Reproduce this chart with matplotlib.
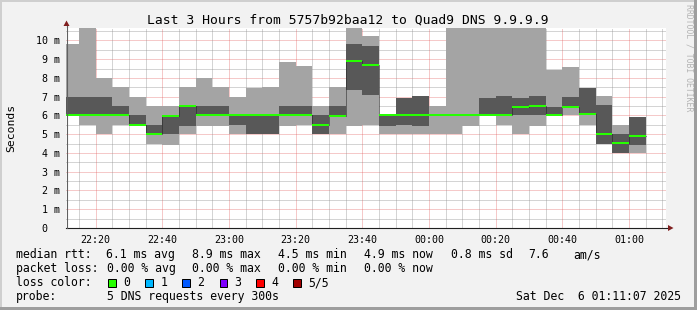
import matplotlib
matplotlib.use("Agg")
import matplotlib.pyplot as plt
from matplotlib.patches import Rectangle, Polygon
from matplotlib.lines import Line2D
import numpy as np

W, H = 697, 310
MONO = "DejaVu Sans Mono"

# ---------------- data ----------------
bucket_end = ["22:15", "22:20", "22:25", "22:30", "22:35", "22:40", "22:45",
              "22:50", "22:55", "23:00", "23:05", "23:10", "23:15", "23:20",
              "23:25", "23:30", "23:35", "23:40", "23:45", "23:50", "23:55",
              "00:00", "00:05", "00:10", "00:15", "00:20", "00:25", "00:30",
              "00:35", "00:40", "00:45", "00:50", "00:55", "01:00", "01:05"]
# sorted pings (ms) per bucket: ping1 (lowest) .. ping5 (highest); ping3 = median
ping1 = [6.0, 5.5, 5.0, 5.5, 5.5, 4.5, 4.45, 5.0, 5.45, 5.45, 5.0, 5.0, 5.0, 5.45,
         5.5, 5.0, 5.0, 5.45, 5.5, 5.0, 5.0, 5.0, 5.0, 5.0, 5.45, 6.0, 5.5, 5.0,
         5.45, 6.0, 6.0, 5.5, 4.5, 4.0, 4.0]
ping2 = [6.0, 6.0, 6.0, 6.0, 5.5, 5.0, 5.0, 5.45, 6.0, 6.0, 5.5, 5.0, 5.0, 6.0,
         6.0, 5.0, 5.95, 7.37, 7.1, 5.45, 5.5, 5.45, 6.0, 6.0, 6.0, 6.0, 6.0, 6.0,
         6.0, 6.0, 6.47, 6.05, 4.5, 4.0, 4.44]
ping3 = [6.0, 6.0, 6.0, 6.0, 5.5, 5.0, 5.95, 6.5, 6.0, 6.0, 6.0, 6.0, 6.0, 6.0,
         6.0, 5.5, 5.95, 8.88, 8.67, 6.0, 6.0, 6.0, 6.0, 6.0, 6.0, 6.0, 6.0, 6.47,
         6.52, 6.0, 6.47, 6.05, 5.0, 4.52, 4.92]
ping4 = [7.0, 7.0, 7.0, 6.5, 6.0, 5.5, 5.95, 6.5, 6.5, 6.52, 6.0, 6.0, 6.0, 6.5,
         6.52, 6.0, 6.5, 9.82, 9.72, 6.0, 6.95, 7.05, 6.0, 6.0, 6.0, 6.95, 7.05,
         6.95, 7.05, 6.47, 7.0, 7.48, 6.55, 5.0, 5.93]
ping5 = [9.82, 11.0, 8.0, 7.5, 7.0, 6.5, 6.48, 7.5, 8.0, 7.51, 7.0, 7.48, 7.52,
         8.86, 8.65, 6.5, 7.5, 11.0, 10.25, 6.0, 6.95, 7.05, 6.5, 11.5, 11.5, 11.5,
         11.5, 11.5, 11.5, 8.44, 8.6, 7.48, 7.05, 5.5, 5.93]

major_ticks = ["22:20", "22:40", "23:00", "23:20", "23:40", "00:00", "00:20", "00:40", "01:00"]
ytick_vals = [0, 1, 2, 3, 4, 5, 6, 7, 8, 9, 10]
ytick_labels = ["0  ", "1 m", "2 m", "3 m", "4 m", "5 m", "6 m", "7 m", "8 m", "9 m", "10 m"]

title = "Last 3 Hours from 5757b92baa12 to Quad9 DNS 9.9.9.9"
stats_rtt = [("median rtt:", 16), ("6.1 ms avg", 106), ("8.9 ms max", 192), ("4.5 ms min", 278.5),
             ("4.9 ms now", 364.5), ("0.8 ms sd", 451), ("7.6", 528.5), ("am/s", 573)]
stats_loss = [("packet loss:", 16), ("0.00 % avg", 107), ("0.00 % max", 192.5),
              ("0.00 % min", 278.5), ("0.00 % now", 364.5)]
loss_labels = ["0", "1", "2", "3", "4", "5/5"]
loss_colors = ["#26ff00", "#00b8ff", "#0059ff", "#7e00ff", "#ff0000", "#a10000"]
probe_text = "5 DNS requests every 300s"
stamp_text = "Sat Dec  6 01:11:07 2025"

# ---------------- helpers ----------------
def mins(s):
    h, m = map(int, s.split(":"))
    t = h * 60 + m
    if h < 12:
        t += 1440
    return t

def fx(x):
    return x / W

def fy(y):
    return 1 - y / H

ends = np.array([mins(s) for s in bucket_end], dtype=float)
edges = np.append(ends - 5, ends[-1])

def st(v):
    v = np.asarray(v, dtype=float)
    return np.append(v, v[-1])

x_start = mins("22:11") + 7 / 60.0
x_end = x_start + 180
YMAX = 10.66

BG = "#f2f2f2"
GRID = (0.56, 0.56, 0.56, 0.75)
MGRID = (0.87, 0.31, 0.31, 0.60)
ARROW = "#801f1f"

fig = plt.figure(figsize=(W / 100, H / 100), dpi=100, facecolor=BG)
ax = fig.add_axes([66 / W, 82 / H, 600 / W, 200 / H])
ax.set_facecolor("white")
ax.set_xlim(x_start, x_end)
ax.set_ylim(0, YMAX)
for sp in ax.spines.values():
    sp.set_visible(False)

# grid (under the graph, dotted)
dash = (0, (1, 1))
for v in np.arange(0.5, YMAX, 0.5):
    col = MGRID if abs(v - round(v)) < 1e-6 else GRID
    ln = ax.axhline(v, color=col, lw=0.72, ls=dash, zorder=1)
    ln.set_snap(True)
major_x = [mins(s) for s in major_ticks]
t = mins("22:15")
while t < x_end:
    col = MGRID if t in major_x else GRID
    ln = ax.axvline(t, color=col, lw=0.72, ls=dash, zorder=1)
    ln.set_snap(True)
    t += 5

# smoke
ax.fill_between(edges, st(ping1), st(ping5), step="post", color="#a4a4a4", lw=0, zorder=2)
ax.fill_between(edges, st(ping2), st(ping4), step="post", color="#585858", lw=0, zorder=3)
# median
med = st(ping3)
ax.step(edges, med, where="post", color="#202020", lw=0.72, ls=(0, (1, 1)), zorder=4)
sw = YMAX / 200.0
ax.fill_between(edges, med - sw, med + sw, step="post", color=loss_colors[0], lw=0, zorder=5)

# ticks and labels
ax.set_xticks(major_x)
ax.set_xticklabels(major_ticks)
ax.set_yticks(ytick_vals)
ax.set_yticklabels(ytick_labels)
ax.tick_params(axis="x", length=0, pad=5.0, labelsize=7.2)
ax.tick_params(axis="y", length=0, pad=4.4, labelsize=7.2)
for lab in ax.get_xticklabels() + ax.get_yticklabels():
    lab.set_fontfamily(MONO)
    lab.set_color("black")

# axes lines + arrows (pixel geometry)
fig.add_artist(Line2D([fx(66), fx(669)], [fy(228), fy(228)], color="#1f1f1f", lw=0.8,
                      transform=fig.transFigure, zorder=10))
fig.add_artist(Line2D([fx(66.5), fx(66.5)], [fy(228), fy(24)], color="#606060", lw=0.8,
                      transform=fig.transFigure, zorder=10))
fig.add_artist(Polygon([(fx(668), fy(225)), (fx(668), fy(231)), (fx(673.5), fy(228))],
                       closed=True, color=ARROW, lw=0, transform=fig.transFigure, zorder=11))
fig.add_artist(Polygon([(fx(63.5), fy(26)), (fx(69.5), fy(26)), (fx(66.5), fy(20.5))],
                       closed=True, color=ARROW, lw=0, transform=fig.transFigure, zorder=11))

# title
fig.text(fx(348), fy(24), title, ha="center", va="baseline", fontsize=9.4, family=MONO)
# y axis label
fig.text(fx(11), fy(128), "Seconds", ha="center", va="center", rotation=90, fontsize=8.2, family=MONO)
# watermark
fig.text(fx(688.5), fy(4), "RRDTOOL / TOBI OETIKER", ha="center", va="top", rotation=270,
         fontsize=5.9, family=MONO, color="#b4b4b4")

# legend rows
LFS = 8.3
for s, x in stats_rtt:
    fig.text(fx(x), fy(258.3), s, ha="left", va="baseline", fontsize=LFS, family=MONO)
for s, x in stats_loss:
    fig.text(fx(x), fy(272.3), s, ha="left", va="baseline", fontsize=LFS, family=MONO)
fig.text(fx(16), fy(286.3), "loss color:", ha="left", va="baseline", fontsize=LFS, family=MONO)
box_x = [108.3, 145.3, 182.2, 219.6, 256.4, 293.3]
for lab, col, bx in zip(loss_labels, loss_colors, box_x):
    fig.add_artist(Rectangle((fx(bx), fy(287)), 7.5 / W, 8 / H, facecolor=col, edgecolor="black",
                             lw=0.72, transform=fig.transFigure))
    fig.text(fx(bx + 15), fy(286.3), lab, ha="left", va="baseline", fontsize=LFS, family=MONO)
fig.text(fx(16), fy(300.3), "probe:", ha="left", va="baseline", fontsize=LFS, family=MONO)
fig.text(fx(107), fy(300.3), probe_text, ha="left", va="baseline", fontsize=LFS, family=MONO)
fig.text(fx(681), fy(300.3), stamp_text, ha="right", va="baseline", fontsize=LFS, family=MONO)

# frame shading
fig.add_artist(Rectangle((0, fy(2)), 1, 2 / H, facecolor="#cfcfcf", lw=0, transform=fig.transFigure))
fig.add_artist(Rectangle((0, 0), 2 / W, 1, facecolor="#cfcfcf", lw=0, transform=fig.transFigure))
fig.add_artist(Rectangle((0, 0), 1, 3 / H, facecolor="#9e9e9e", lw=0, transform=fig.transFigure))
fig.add_artist(Rectangle((fx(694), 0), 3 / W, 1, facecolor="#9e9e9e", lw=0, transform=fig.transFigure))

fig.savefig("out.png", dpi=100, facecolor=BG)
